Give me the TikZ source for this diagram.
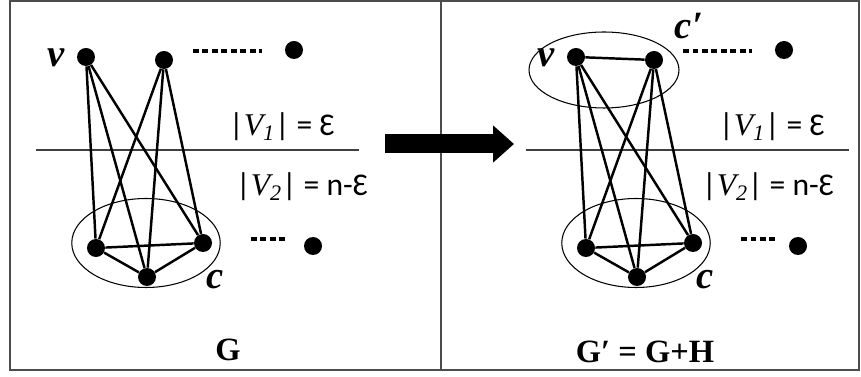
\documentclass[tikz,border=0pt]{standalone}
\usepackage{fontspec}
\setmainfont{Liberation Serif}
\newfontfamily\calfont{Carlito}
\usetikzlibrary{arrows.meta,shapes.geometric}

\tikzset{
  vtx/.style={circle, fill=black, inner sep=0pt, minimum size=0.36cm},
  edge/.style={line width=1.4pt},
  clique/.style={draw, ellipse, line width=0.6pt, inner sep=0pt},
  dots/.style={line width=2.4pt, dash pattern=on 3.2pt off 2.2pt},
  cut/.style={line width=0.8pt, black!75},
  frame/.style={line width=0.8pt, black!70},
  vlab/.style={font=\fontsize{22}{24}\selectfont\bfseries\itshape},
  setlab/.style={font=\calfont\fontsize{18}{20}\selectfont, anchor=west},
  glab/.style={font=\fontsize{18.5}{20}\selectfont\bfseries}
}
\newcommand{\setsize}[1]{|{\rmfamily\itshape V\textsubscript{#1}}|}

\begin{document}
\begin{tikzpicture}[x=0.02cm, y=-0.02cm]
  \useasboundingbox (0,0) rectangle (861,377);

  % the two panels
  \draw[frame] (10,1) rectangle (859,370);
  \draw[frame] (441,1) -- (441,370);

  % same graph in both panels, right one shifted
  \foreach \p/\sx/\ex in {L/0/313, R/490/308} {
    \begin{scope}[shift={(\sx,0)}]
      % top vertices (V_1) and bottom clique (V_2)
      \node[vtx] (v\p) at (86,57) {};
      \node[vtx] (t\p) at (164,60) {};
      \node[vtx] (a\p) at (96,248) {};
      \node[vtx] (b\p) at (147,277) {};
      \node[vtx] (d\p) at (203,243) {};
      \node[clique, minimum width=2.97cm, minimum height=1.78cm] (c\p) at (146,243) {};

      % far vertices
      \node[vtx] (f\p) at (294,50) {};
      \node[vtx] (g\p) at (\ex,246) {};
      \coordinate (fa\p) at (193,51);
      \coordinate (fb\p) at (262,51);
      \coordinate (ga\p) at (251,239);
      \coordinate (gb\p) at (288,239);
      \draw[dots] (fa\p) -- (fb\p);
      \draw[dots] (ga\p) -- (gb\p);

      % cut between V_1 and V_2
      \coordinate (la\p) at (36,150);
      \coordinate (lb\p) at (359,150);
      \draw[cut] (la\p) -- (lb\p);
      \node[setlab] (s\p) at (223,127) {\setsize{1} = Ɛ};

      % edges
      \foreach \s in {v,t} {
        \foreach \e in {a,b,d} {
          \draw[edge] (\s\p) -- (\e\p);
        }
      }
      \draw[edge] (a\p) -- (b\p) -- (d\p) -- (a\p);

      % labels
      \node[vlab] (vl\p) at (56,58) {v};
      \node[vlab] (cl\p) at (215,280) {c};
    \end{scope}
  }

  % only in G'
  \draw[edge] (vR) -- (tR);
  \node[clique, minimum width=3.0cm, minimum height=1.52cm] (cpR) at (604,70) {};
  \node[vlab] (cpl) at (689,26) {c′};

  \node[setlab] (wL) at (230,187) {\setsize{2} = n-Ɛ};
  \node[setlab] (wR) at (696,187) {\setsize{2} = n-Ɛ};

  \node[glab] (gL) at (228,350) {G};
  \node[glab] (gR) at (645,352) {G′ = G+H};

  % G becomes G'
  \coordinate (arrS) at (385,144);
  \coordinate (arrE) at (514,144);
  \draw[line width=0.38cm, -{Triangle[width=0.72cm, length=0.42cm]}] (arrS) -- (arrE);
\end{tikzpicture}
\end{document}
